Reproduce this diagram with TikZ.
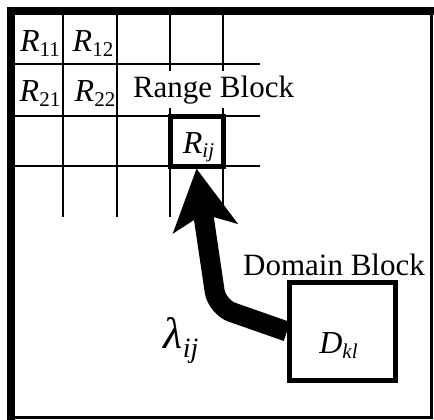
\documentclass[tikz,border=0pt]{standalone}
\usepackage{fontspec}
\setmainfont{Liberation Serif}
\usetikzlibrary{arrows.meta}
\newcommand{\lbl}[2]{{\fontsize{32}{32}\selectfont\itshape #1}\raisebox{-5pt}{\fontsize{21}{21}\selectfont #2}}
\tikzset{
  gridline/.style={line width=1.8pt},
  blockbox/.style={draw, line width=5pt, inner sep=0pt, fill=white},
  lab/.style={inner sep=0pt, anchor=base},
  caption/.style={inner sep=0pt, anchor=base, font=\fontsize{31}{31}\selectfont},
  bigarrow/.style={line width=20pt, -{Stealth[length=60pt,width=64pt,inset=14pt]}, rounded corners=16pt}
}
\begin{document}
\begin{tikzpicture}[x=1pt,y=-1pt]
\useasboundingbox (0,0) rectangle (434,420);
\fill[white] (0,0) rectangle (434,420);
% frame
\draw[line width=8pt] (11,420) -- (11,11) -- (434,11);
\draw[line width=3pt] (431.5,7) -- (431.5,417.5) -- (7,417.5);
% grid
\foreach \x in {63,117,170,223} \draw[gridline] (\x,15) -- (\x,217);
\foreach \y in {64,116,166} \draw[gridline] (15,\y) -- (260,\y);
% range block caption (white background)
\node[caption, fill=white, inner xsep=1pt, inner ysep=4pt] (rangecap) at (213.5,97) {Range Block};
% labels in grid
\node[lab] (r11) at (40,52) {\lbl{R}{11}};
\node[lab] (r12) at (93,52) {\lbl{R}{12}};
\node[lab] (r21) at (40,102) {\lbl{R}{21}};
\node[lab] (r22) at (95,102) {\lbl{R}{22}};
% range block
\node[blockbox, minimum width=53pt, minimum height=50pt] (Rij) at (196.5,141) {};
\node[lab] (Rijl) at (198.5,153) {\lbl{R}{\itshape ij}};
% domain block
\node[blockbox, minimum width=106pt, minimum height=98pt] (Dkl) at (342.5,331.5) {};
\node[lab] (Dkll) at (338.5,353) {\lbl{D}{\itshape kl}};
\node[caption] (domcap) at (334,275) {Domain Block};
% arrow
\coordinate (bend) at (217,307);
\draw[bigarrow] (Dkl.west) -- (bend) -- (Rij.south);
% lambda
\node[lab] (lam) at (181,348) {{\fontsize{44}{44}\selectfont\itshape λ}\raisebox{-9pt}{\fontsize{28}{28}\selectfont\itshape ij}};
\end{tikzpicture}
\end{document}
